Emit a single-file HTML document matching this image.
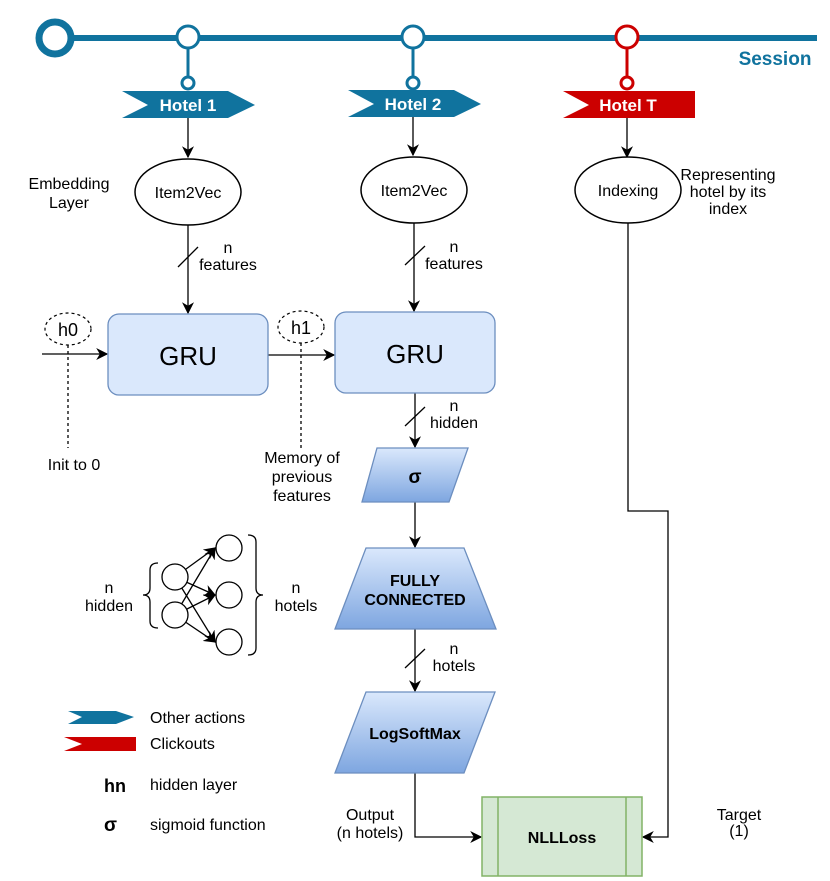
<!DOCTYPE html>
<html><head><meta charset="utf-8"><style>
html,body{margin:0;padding:0;background:#fff}
svg{display:block}
text{font-family:"Liberation Sans",Arial,sans-serif}
</style></head><body>
<svg width="830" height="881" viewBox="0 0 830 881" xmlns="http://www.w3.org/2000/svg">
<defs>
<marker id="ar" viewBox="0 0 10 10" refX="9" refY="5" markerWidth="12" markerHeight="12" markerUnits="userSpaceOnUse" orient="auto"><path d="M0,0 L10,5 L0,10 L3,5 Z" fill="#000"/></marker>
<linearGradient id="bg" x1="0" y1="0" x2="0" y2="1"><stop offset="0" stop-color="#dae8fc"/><stop offset="1" stop-color="#7ea6e0"/></linearGradient>
</defs>
<!-- timeline -->
<line x1="60" y1="38" x2="817" y2="38" stroke="#10739e" stroke-width="6"/>
<circle cx="55" cy="38" r="16" fill="#fff" stroke="#10739e" stroke-width="7"/>
<g stroke="#10739e" stroke-width="3" fill="#fff">
<line x1="188" y1="38" x2="188" y2="80"/><circle cx="188" cy="37" r="11"/><circle cx="188" cy="83" r="6"/>
<line x1="413" y1="38" x2="413" y2="80"/><circle cx="413" cy="37" r="11"/><circle cx="413" cy="83" r="6"/>
</g>
<g stroke="#cc0000" stroke-width="3" fill="#fff">
<line x1="627" y1="38" x2="627" y2="80"/><circle cx="627" cy="37" r="11"/><circle cx="627" cy="83" r="6"/>
</g>
<text x="775" y="65" font-size="19" font-weight="bold" fill="#10739e" text-anchor="middle">Session</text>
<polygon points="122,91 228,91 255,105 228,118 122,118 148,105" fill="#10739e"/>
<text x="188" y="111" font-size="17" font-weight="bold" fill="#fff" text-anchor="middle">Hotel 1</text>
<polygon points="348,90 454,90 481,104 454,117 348,117 374,104" fill="#10739e"/>
<text x="413" y="110" font-size="17" font-weight="bold" fill="#fff" text-anchor="middle">Hotel 2</text>
<polygon points="563,91 695,91 695,118 563,118 589,105" fill="#cc0000"/>
<text x="628" y="111" font-size="17" font-weight="bold" fill="#fff" text-anchor="middle">Hotel T</text>
<!-- connectors -->
<g stroke="#000" stroke-width="1.3" fill="none">
<line x1="188" y1="118" x2="188" y2="157" marker-end="url(#ar)"/>
<line x1="413" y1="117" x2="413" y2="155" marker-end="url(#ar)"/>
<line x1="627" y1="118" x2="627" y2="157" marker-end="url(#ar)"/>
<line x1="188" y1="225" x2="188" y2="313" marker-end="url(#ar)"/>
<line x1="178" y1="267" x2="198" y2="247"/>
<line x1="414" y1="223" x2="414" y2="311" marker-end="url(#ar)"/>
<line x1="405" y1="265" x2="425" y2="246"/>
<line x1="42" y1="354" x2="107" y2="354" marker-end="url(#ar)"/>
<line x1="268" y1="355" x2="334" y2="355" marker-end="url(#ar)"/>
<line x1="415" y1="393" x2="415" y2="447" marker-end="url(#ar)"/>
<line x1="405" y1="426" x2="425" y2="407"/>
<line x1="415" y1="502" x2="415" y2="547" marker-end="url(#ar)"/>
<line x1="415" y1="629" x2="415" y2="691" marker-end="url(#ar)"/>
<line x1="405" y1="668" x2="425" y2="649"/>
<polyline points="415,773 415,837 481,837" marker-end="url(#ar)"/>
<polyline points="628,223 628,511 668,511 668,837 643,837" marker-end="url(#ar)"/>
<line x1="68" y1="345" x2="68" y2="448" stroke-dasharray="3,3"/>
<line x1="301" y1="343" x2="301" y2="448" stroke-dasharray="3,3"/>
</g>
<!-- ellipses -->
<g stroke="#000" stroke-width="1.5" fill="#fff">
<ellipse cx="188" cy="192" rx="53" ry="33"/>
<ellipse cx="414" cy="190" rx="53" ry="33"/>
<ellipse cx="628" cy="190" rx="53" ry="33"/>
</g>
<g font-size="16" text-anchor="middle">
<text x="188" y="198">Item2Vec</text>
<text x="414" y="196">Item2Vec</text>
<text x="628" y="196">Indexing</text>
</g>
<g fill="#fff" stroke="#000" stroke-width="1.2" stroke-dasharray="3,3">
<ellipse cx="68" cy="329" rx="23" ry="16"/>
<ellipse cx="301" cy="327" rx="23" ry="16"/>
</g>
<text x="68" y="336" font-size="18" text-anchor="middle">h0</text>
<text x="301" y="334" font-size="18" text-anchor="middle">h1</text>
<!-- GRU -->
<rect x="108" y="314" width="160" height="81" rx="11" fill="#dae8fc" stroke="#6c8ebf" stroke-width="1.3"/>
<rect x="335" y="312" width="160" height="81" rx="11" fill="#dae8fc" stroke="#6c8ebf" stroke-width="1.3"/>
<text x="188" y="365" font-size="26" text-anchor="middle">GRU</text>
<text x="415" y="363" font-size="26" text-anchor="middle">GRU</text>
<!-- blue shapes -->
<g fill="url(#bg)" stroke="#6c8ebf" stroke-width="1.3">
<polygon points="377,448 468,448 449,502 362,502"/>
<polygon points="366,548 464,548 496,629 335,629"/>
<polygon points="366,692 495,692 464,773 335,773"/>
</g>
<text x="415" y="483" font-size="19" font-weight="bold" text-anchor="middle">σ</text>
<text x="415" y="586" font-size="16" font-weight="bold" text-anchor="middle">FULLY</text>
<text x="415" y="605" font-size="16" font-weight="bold" text-anchor="middle">CONNECTED</text>
<text x="415" y="739" font-size="16" font-weight="bold" text-anchor="middle">LogSoftMax</text>
<!-- NLLLoss -->
<rect x="482" y="797" width="160" height="79" fill="#d5e8d4" stroke="#82b366" stroke-width="1.5"/>
<line x1="498" y1="797" x2="498" y2="876" stroke="#82b366" stroke-width="1.5"/>
<line x1="626" y1="797" x2="626" y2="876" stroke="#82b366" stroke-width="1.5"/>
<text x="562" y="843" font-size="16" font-weight="bold" text-anchor="middle">NLLLoss</text>
<!-- labels -->
<g font-size="16" text-anchor="middle">
<text x="69" y="189">Embedding</text><text x="69" y="208">Layer</text>
<text x="728" y="180">Representing</text><text x="728" y="197">hotel by its</text><text x="728" y="214">index</text>
<text x="228" y="253">n</text><text x="228" y="270">features</text>
<text x="454" y="252">n</text><text x="454" y="269">features</text>
<text x="454" y="411">n</text><text x="454" y="428">hidden</text>
<text x="454" y="654">n</text><text x="454" y="671">hotels</text>
<text x="74" y="470">Init to 0</text>
<text x="302" y="463">Memory of</text><text x="302" y="482">previous</text><text x="302" y="501">features</text>
<text x="370" y="820">Output</text><text x="370" y="838">(n hotels)</text>
<text x="739" y="820">Target</text><text x="739" y="836">(1)</text>
<text x="109" y="593">n</text><text x="109" y="611">hidden</text>
<text x="296" y="593">n</text><text x="296" y="611">hotels</text>
</g>
<!-- NN icon -->
<g stroke="#000" stroke-width="1.3" fill="#fff">
<line x1="175" y1="577" x2="215" y2="548" marker-end="url(#ar)"/>
<line x1="175" y1="577" x2="215" y2="595" marker-end="url(#ar)"/>
<line x1="175" y1="577" x2="215" y2="642" marker-end="url(#ar)"/>
<line x1="175" y1="615" x2="215" y2="548" marker-end="url(#ar)"/>
<line x1="175" y1="615" x2="215" y2="595" marker-end="url(#ar)"/>
<line x1="175" y1="615" x2="215" y2="642" marker-end="url(#ar)"/>
<circle cx="175" cy="577" r="13"/><circle cx="175" cy="615" r="13"/>
<circle cx="229" cy="548" r="13"/><circle cx="229" cy="595" r="13"/><circle cx="229" cy="642" r="13"/>
<path d="M158,563 Q150,563 150,570 L150,588 Q150,595 143,595 Q150,595 150,602 L150,621 Q150,628 158,628" fill="none"/>
<path d="M248,535 Q256,535 256,542 L256,588 Q256,595 263,595 Q256,595 256,602 L256,648 Q256,655 248,655" fill="none"/>
</g>
<!-- legend -->
<polygon points="68,711 116,711 134,717 116,724 68,724 82,717" fill="#10739e"/>
<text x="150" y="723" font-size="16">Other actions</text>
<polygon points="64,737 136,737 136,751 64,751 82,744" fill="#cc0000"/>
<text x="150" y="749" font-size="16">Clickouts</text>
<text x="104" y="792" font-size="18" font-weight="bold">hn</text>
<text x="150" y="790" font-size="16">hidden layer</text>
<text x="104" y="831" font-size="19" font-weight="bold">σ</text>
<text x="150" y="830" font-size="16">sigmoid function</text>
</svg>
</body></html>
